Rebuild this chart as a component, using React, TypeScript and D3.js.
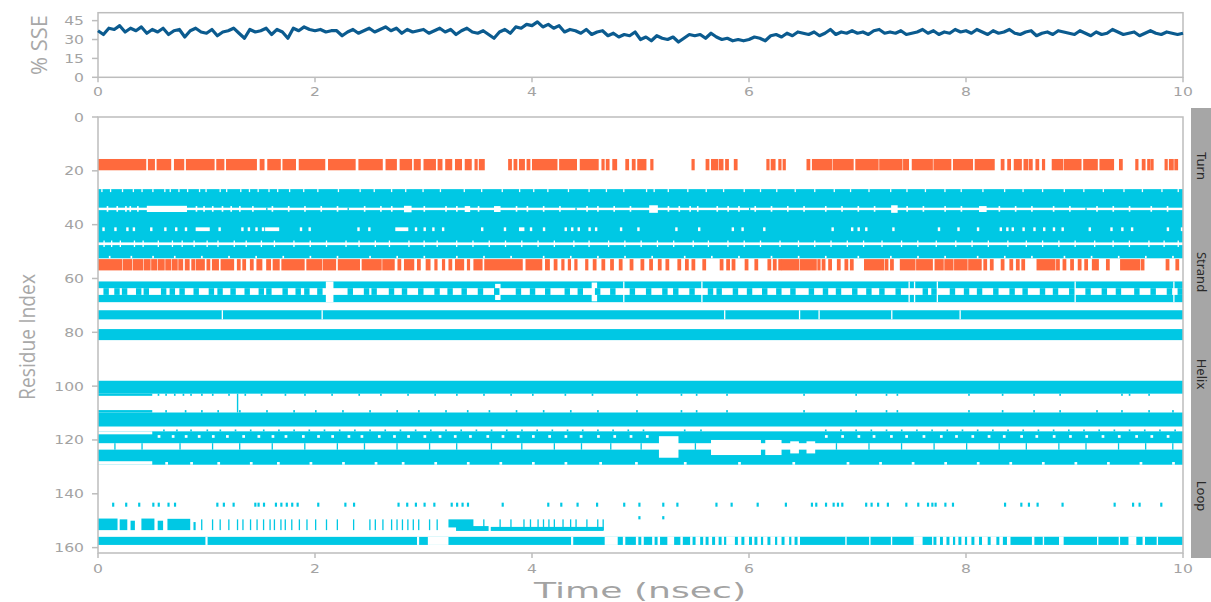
import React from 'react';
import * as d3 from 'd3';

// ---- SSE percentage, one reading every 0.05 ns (0..10 ns)
const SSE_STEP = 0.05;
const SSE_VALUES = [
  37,34,39,38,41,36,39,37,40,35,38,36,39,34,37,38,32,37,39,36,
  35,38,33,36,37,39,35,31,38,36,37,39,34,38,36,31,39,37,40,38,
  37,38,36,37,37,33,36,38,35,37,39,36,38,40,37,39,35,38,36,37,
  38,35,37,39,36,38,34,37,39,36,35,37,34,31,36,38,35,40,39,42,
  41,44,40,42,39,41,36,38,37,35,38,34,36,37,33,35,32,34,33,36,
  30,32,29,33,31,30,32,28,31,34,33,34,31,35,32,30,31,29,30,29,
  30,32,31,29,33,34,32,35,33,36,35,34,36,33,35,38,34,36,35,37,
  35,36,34,37,38,35,36,35,37,34,35,36,38,35,37,34,36,35,38,36,
  37,35,38,36,34,37,35,36,38,35,34,36,37,33,35,36,34,37,36,35,
  34,37,35,33,36,34,35,38,36,34,35,36,33,35,37,35,34,36,35,34,
  35,
];

const TIME_TICKS = [0, 2, 4, 6, 8, 10];
const SSE_TICKS = [0, 15, 30, 45];
const RES_TICKS = [0, 20, 40, 60, 80, 100, 120, 140, 160];
const LEGEND = [
  { label: 'Turn', y: 166 },
  { label: 'Strand', y: 272 },
  { label: 'Helix', y: 374 },
  { label: 'Loop', y: 496 },
];

// ---- helix (cyan) residue bands, [from, to]
const HELIX_BANDS: [number, number][] = [
  [26.8, 52.5], [61.1, 63.6], [66.1, 68.8], [71.8, 75.2], [78.8, 82.9],
  [98.0, 102.8], [109.8, 115.0], [116.8, 121.2], [123.6, 129.2], [156.0, 159.0],
];
// full-width white lines inside the helix band
const WHITE_LINES: [number, number][] = [[33.7, 34.6], [46.6, 47.6]];

// white blocks [t0, t1, r0, r1]
const WHITE_BLOCKS: [number, number, number, number][] = [
  [0.45, 0.82, 33.0, 35.3], [2.82, 2.89, 33.0, 35.4], [3.38, 3.43, 33.1, 35.3],
  [3.65, 3.71, 33.1, 35.3], [5.08, 5.16, 32.8, 35.6], [7.31, 7.37, 32.8, 35.6],
  [8.12, 8.19, 33.1, 35.3],
  [0.90, 1.03, 41.0, 42.4], [1.54, 1.67, 41.0, 42.4], [2.74, 2.86, 41.0, 42.4], [3.88, 3.93, 41.0, 42.4],
  [2.10, 2.17, 61.1, 68.8], [3.66, 3.71, 62.0, 68.0], [4.55, 4.60, 61.5, 68.5],
  [0.0, 0.5, 116.8, 117.9], [0.0, 0.5, 127.9, 129.2],
  [5.17, 5.35, 118.6, 126.6], [5.65, 6.11, 120.0, 125.6], [6.15, 6.30, 120.0, 125.6],
  [6.38, 6.46, 120.5, 125.0], [6.53, 6.61, 120.5, 125.0],
  [0.99, 1.01, 156.0, 159.0], [2.94, 2.96, 156.0, 159.0], [3.04, 3.23, 156.0, 159.0],
  [4.36, 4.38, 156.0, 159.0], [4.67, 10.0, 156.0, 159.0],
];

// thin white notches: rows and the times they appear at
const NOTCH_TOP1 = [0.03,0.11,0.22,0.32,0.40,0.50,0.61,0.66,0.74,0.82,0.93,0.99,1.12,1.18,1.31,1.39,1.47,1.57,1.65,1.76,1.89,2.02,2.21,2.41,2.54,2.70,2.83,2.99,3.15,3.37,3.53,3.72,3.88,4.01,4.14,4.33,4.52,4.68,4.84,5.05,5.12,5.25,5.43,5.60,5.76,5.95,6.10,6.25,6.42,6.60,6.78,6.93,7.10,7.30,7.45,7.62,7.80,7.95,8.15,8.35,8.52,8.70,8.90,9.08,9.26,9.45,9.62,9.80,9.95];
const NOTCH_34 = [0.08,0.17,0.25,0.29,0.36,0.90,0.97,1.05,1.14,1.22,1.30,1.42,1.60,1.75,1.90,2.05,2.20,2.45,2.60,2.70,3.00,3.20,3.30,3.50,3.85,3.95,4.10,4.25,4.50,4.60,4.75,4.90,5.25,5.35,5.45,5.52,5.70,5.80,5.90,6.05,6.20,6.35,6.50,6.70,6.85,7.00,7.15,7.45,7.60,7.80,7.95,8.30,8.45,8.60,8.80,8.95,9.20,9.35,9.50,9.70,9.85];
const NOTCH_41 = [0.04,0.15,0.26,0.32,0.48,0.61,0.71,0.80,1.11,1.32,1.38,1.45,1.51,1.86,1.94,2.39,2.49,2.92,3.00,3.08,3.17,3.53,3.74,3.98,4.10,4.30,4.36,4.42,4.52,4.58,4.81,4.97,5.32,5.53,5.84,5.93,6.13,6.76,6.94,7.00,7.07,7.32,7.74,7.92,8.10,8.31,8.37,8.42,8.52,8.62,8.71,8.80,8.88,9.13,9.33,9.43,9.52,9.85,9.98];
const NOTCH_47 = [0.05,0.12,0.20,0.33,0.41,0.55,0.68,0.77,0.88,1.00,1.10,1.25,1.36,1.50,1.62,1.80,1.95,2.10,2.28,2.40,2.55,2.68,2.86,3.00,3.12,3.30,3.45,3.60,3.75,3.90,4.05,4.20,4.38,4.52,4.70,4.85,5.00,5.15,5.30,5.48,5.62,5.80,5.95,6.10,6.28,6.45,6.60,6.75,6.90,7.05,7.22,7.40,7.55,7.72,7.90,8.05,8.20,8.38,8.55,8.70,8.85,9.00,9.18,9.35,9.50,9.68,9.82,9.95];
const NOTCH_BOT1 = [0.10,0.30,0.50,0.70,0.95,1.20,1.45,1.70,1.95,2.20,2.50,2.75,3.00,3.30,3.55,3.80,4.10,4.35,4.60,4.85,5.10,5.40,5.65,5.90,6.20,6.45,6.70,7.00,7.30,7.55,7.80,8.10,8.35,8.60,8.90,9.15,9.40,9.65,9.90];
const CUTS_62 = [4.84,5.56,7.47,7.52,7.73,9.00,9.91];
const CUTS_72 = [1.14,2.06,5.77,6.46,6.64,7.31,7.94];
const NOTCH_118 = [0.55,0.68,0.80,0.92,1.05,1.18,1.33,1.47,1.60,1.72,1.88,2.02,2.15,2.30,2.42,2.58,2.72,2.85,3.00,3.14,3.28,3.42,3.58,3.72,3.86,4.00,4.15,4.30,4.44,4.60,4.75,4.90,5.05,6.70,6.85,7.00,7.14,7.30,7.44,7.60,7.76,7.90,8.05,8.20,8.34,8.50,8.64,8.80,8.95,9.10,9.25,9.40,9.56,9.70,9.85];
const NOTCH_128 = [0.62,0.85,1.10,1.40,1.65,1.95,2.25,2.55,2.80,3.10,3.40,3.70,4.00,4.30,4.62,4.95,5.40,5.90,6.40,6.90,7.20,7.50,7.80,8.10,8.40,8.70,9.00,9.30,9.60,9.90];

// cyan ticks: bridges across white gaps and fringe spikes
const BRIDGE_34 = [1.55,2.30,4.40,6.00,9.10];
const BRIDGE_64 = [0.05,0.15,0.22,0.35,0.42,0.58,0.66,0.75,0.88,1.02,1.10,1.22,1.35,1.48,1.55,1.70,1.82,1.90,2.02,2.30,2.45,2.52,2.68,2.80,2.95,3.10,3.22,3.35,3.50,3.65,3.85,3.98,4.12,4.30,4.42,4.58,4.72,4.90,5.05,5.20,5.30,5.45,5.62,5.70,5.85,5.98,6.12,6.25,6.38,6.55,6.68,6.80,6.95,7.08,7.20,7.35,7.60,7.68,7.85,7.98,8.10,8.25,8.40,8.52,8.68,8.80,8.95,9.10,9.25,9.38,9.55,9.70,9.85,9.95];
const FRINGE_103 = [0.55,0.62,0.70,0.78,0.85,0.95,1.05,1.20,1.35,1.50,1.72,1.90,2.15,2.40,2.60,2.85,3.10,3.30,3.55,3.80,4.00,4.30,4.55,4.96,5.37,5.51,5.79,6.50,6.98,7.26,7.36,8.02,8.33,8.62,8.86,9.43,9.50,9.68];
const FRINGE_109 = [0.62,0.80,0.95,1.10,1.30,1.55,1.80,2.00,2.25,2.50,2.75,2.95,3.20,3.40,3.60,3.85,4.10,4.35,4.60,4.96,5.37,5.51,5.79,6.50,6.98,7.26,7.36,8.02,8.33,8.62,8.86,9.20,9.43,9.68,9.90];
const FRINGE_116 = [0.60,0.72,0.85,1.00,1.12,1.26,1.40,1.52,1.66,1.80,1.94,2.08,2.22,2.36,2.50,2.64,2.78,2.92,3.06,3.20,3.34,3.48,3.62,3.76,3.90,4.04,4.18,4.32,4.46,4.60,4.74,4.88,5.02,5.40,5.55,6.70,6.84,6.98,7.12,7.26,7.40,7.54,7.68,7.82,7.96,8.10,8.24,8.38,8.52,8.66,8.80,8.94,9.08,9.22,9.36,9.50,9.64,9.78,9.92];
const BRIDGE_122 = [0.15,0.40,0.75,1.05,1.30,1.60,1.90,2.20,2.45,2.75,3.05,3.30,3.62,3.90,4.20,4.45,4.72,5.00,5.50,6.80,7.10,7.40,7.70,8.00,8.30,8.55,8.85,9.10,9.40,9.65,9.90];

// sparse residues near 144 and 149
const DOTS_144 = [0.13,0.25,0.37,0.50,0.55,0.64,0.70,1.09,1.15,1.24,1.44,1.47,1.52,1.63,1.68,1.73,1.78,1.83,2.02,2.27,2.35,2.76,2.84,2.92,3.00,3.09,3.25,3.30,3.35,3.40,3.72,4.14,4.26,4.41,4.59,4.84,4.98,5.20,5.33,5.69,5.83,6.07,6.33,6.57,6.61,6.70,6.77,6.81,6.85,7.07,7.12,7.18,7.27,7.44,7.55,7.64,7.68,7.71,7.80,7.87,8.35,8.50,8.57,8.65,8.88,9.36,9.53,9.59,9.79];
const DOTS_149 = [4.98,5.20];
// loop-region helix fragments near 149-154: [t0, t1, r0, r1]
const FRAG_150: [number, number, number, number][] = [
  [0.00, 0.18, 149.2, 153.5], [0.20, 0.27, 149.5, 153.5], [0.30, 0.34, 150.0, 153.5],
  [0.40, 0.52, 149.2, 153.5], [0.55, 0.60, 150.0, 153.5], [0.64, 0.85, 149.3, 153.5],
  [0.88, 0.90, 150.5, 153.5], [3.23, 3.46, 149.5, 152.5], [3.30, 3.60, 152.0, 153.8],
  [3.62, 4.66, 152.3, 153.8],
];
const SPIKES_150 = [0.95,1.05,1.12,1.20,1.28,1.33,1.40,1.46,1.52,1.58,1.62,1.68,1.72,1.78,1.85,1.92,2.00,2.10,2.20,2.35,2.50,2.55,2.62,2.70,2.75,2.80,2.85,2.90,2.95,3.05,3.12,3.55,3.70,3.80,3.92,3.98,4.05,4.10,4.15,4.20,4.28,4.35,4.40,4.50,4.60,4.65];
// helix segments of residues 156-159 after 4.67 ns
const SEG_157: [number, number][] = [
  [4.79,4.83],[4.86,4.95],[4.98,5.00],[5.03,5.10],[5.13,5.15],[5.18,5.24],[5.31,5.36],[5.39,5.45],[5.48,5.50],
  [5.55,5.57],[5.60,5.62],[5.66,5.68],[5.72,5.74],[5.77,5.78],[5.87,5.89],[5.93,5.95],[6.00,6.02],[6.05,6.07],
  [6.11,6.12],[6.17,6.19],[6.24,6.25],[6.30,6.32],[6.37,6.38],[6.42,6.44],[6.47,6.88],[6.90,7.10],[7.12,7.30],
  [7.32,7.51],[7.60,7.68],[7.70,7.72],[7.76,7.78],[7.82,7.84],[7.88,7.89],[7.93,7.95],[7.99,8.00],[8.05,8.07],
  [8.12,8.14],[8.20,8.22],[8.28,8.30],[8.34,8.37],[8.41,8.60],[8.63,8.70],[8.72,8.85],[8.90,9.20],[9.22,9.40],
  [9.42,9.49],[9.57,9.62],[9.65,9.75],[9.77,9.99],
];

// strand (orange) occupancy, [t0, t1]
const STRAND_A_RES: [number, number] = [15.6, 19.8];
const STRAND_A: [number, number][] = [
  [0.00,0.43],[0.46,0.51],[0.54,0.66],[0.70,0.78],[0.81,1.06],[1.09,1.15],[1.18,1.45],[1.49,1.52],[1.56,1.67],
  [1.70,1.81],[1.85,2.08],[2.12,2.36],[2.40,2.61],[2.65,2.74],[2.78,2.88],[2.91,2.96],[3.00,3.10],[3.13,3.16],
  [3.20,3.25],[3.29,3.34],[3.38,3.43],[3.47,3.48],[3.51,3.55],[3.78,3.80],[3.83,3.85],[3.88,3.92],[3.95,3.97],
  [4.00,4.22],[4.25,4.40],[4.44,4.60],[4.64,4.65],[4.68,4.70],[4.74,4.77],[4.86,4.88],[4.92,4.94],[4.97,5.04],
  [5.09,5.10],[5.47,5.48],[5.60,5.62],[5.65,5.70],[5.72,5.75],[5.78,5.80],[5.86,5.88],[6.16,6.17],[6.20,6.23],
  [6.27,6.28],[6.31,6.32],[6.53,6.55],[6.58,6.75],[6.77,6.95],[6.98,7.18],[7.20,7.40],[7.42,7.46],[7.50,7.68],
  [7.70,7.85],[7.88,8.05],[8.08,8.25],[8.32,8.34],[8.38,8.40],[8.44,8.50],[8.53,8.56],[8.58,8.60],[8.64,8.66],
  [8.70,8.71],[8.79,8.88],[8.90,9.05],[9.08,9.20],[9.23,9.35],[9.41,9.43],[9.56,9.57],[9.62,9.64],[9.67,9.68],
  [9.70,9.71],[9.83,9.84],[9.87,9.90],[9.92,9.94],
];
const STRAND_B_RES: [number, number] = [52.8, 57.0];
const STRAND_B: [number, number][] = [
  [0.00,0.21],[0.23,0.30],[0.32,0.40],[0.42,0.47],[0.49,0.53],[0.55,0.60],[0.62,0.66],[0.68,0.72],[0.74,0.77],
  [0.80,0.83],[0.86,0.88],[0.90,0.97],[1.00,1.02],[1.05,1.10],[1.13,1.24],[1.28,1.30],[1.33,1.35],[1.40,1.42],
  [1.46,1.50],[1.55,1.58],[1.61,1.66],[1.69,1.89],[1.92,2.05],[2.07,2.18],[2.21,2.40],[2.43,2.60],[2.62,2.72],
  [2.76,2.78],[2.82,2.90],[2.94,2.96],[3.02,3.05],[3.10,3.11],[3.17,3.18],[3.23,3.25],[3.29,3.36],[3.40,3.41],
  [3.46,3.53],[3.56,3.90],[3.94,4.08],[4.12,4.15],[4.20,4.22],[4.27,4.28],[4.33,4.34],[4.39,4.40],[4.49,4.50],
  [4.56,4.58],[4.64,4.66],[4.72,4.74],[4.80,4.82],[4.90,4.92],
  [5.00,5.02],[5.08,5.10],[5.16,5.18],[5.23,5.25],[5.34,5.36],[5.41,5.43],[5.47,5.49],[5.57,5.59],[5.73,5.75],
  [5.79,5.81],[5.84,5.86],[5.96,5.98],[6.05,6.07],[6.17,6.19],[6.22,6.24],[6.27,6.29],[6.30,6.45],[6.47,6.61],
  [6.63,6.64],[6.67,6.69],[6.73,6.75],[6.81,6.83],[6.88,6.90],[6.93,6.95],[7.06,7.23],[7.25,7.27],[7.30,7.32],
  [7.39,7.52],[7.54,7.68],[7.71,7.78],[7.80,7.87],[7.89,8.00],[8.02,8.13],[8.16,8.18],[8.22,8.24],[8.32,8.34],
  [8.40,8.42],[8.46,8.48],[8.51,8.53],[8.65,8.81],[8.83,8.85],[8.89,8.91],[8.96,8.98],[9.03,9.05],[9.09,9.11],
  [9.16,9.21],[9.29,9.31],[9.42,9.59],[9.61,9.63],[9.84,9.86],[9.93,9.95],
];

const CYAN = '#00c8e4';
const ORANGE = '#ff6a3d';
const LINE = '#0b5b8f';
const AXIS = '#bdbdbd';
const TICK_TEXT = '#a3a3a3';

export default function App() {
  const x = d3.scaleLinear().domain([0, 10]).range([98, 1183]);
  const yS = d3.scaleLinear().domain([0, 51.3]).range([77.3, 12.7]);
  const yR = d3.scaleLinear().domain([0, 162]).range([117, 553]);

  const line = d3.line<number>()
    .x((_, i) => x(i * SSE_STEP))
    .y(d => yS(d));

  const rect = (t0: number, t1: number, r0: number, r1: number, fill: string, key: string, minW = 1.4, pad = 0) => (
    <rect key={key} x={x(t0)} y={yR(r0)} width={Math.min(Math.max(x(t1) - x(t0), minW) + pad, 1183 - x(t0))}
      height={yR(r1) - yR(r0)} fill={fill} />
  );
  const ticks = (times: number[], r0: number, r1: number, fill: string, w: number, key: string) =>
    times.map((t, i) => rect(t, t + w, r0, r1, fill, `${key}-${i}`, 1.2));

  const tickLabel = (tx: number, ty: number, s: string, anchor: string, key: string) => (
    <text key={key} transform={`translate(${tx},${ty}) scale(1.3,1)`} textAnchor={anchor}
      fontFamily="DejaVu Sans" fontSize={12} fill={TICK_TEXT}>{s}</text>
  );

  return (
    <svg width={1211} height={602} style={{ position: 'absolute', left: 0, top: 0, background: '#fff' }}>
      {/* ---- top panel: % SSE */}
      <rect x={98} y={yS(51.3)} width={1085} height={yS(0) - yS(51.3)} fill="none" stroke={AXIS} strokeWidth={1.5} />
      <path d={line(SSE_VALUES) ?? ''} fill="none" stroke={LINE} strokeWidth={3.2} strokeLinejoin="round" />
      {SSE_TICKS.map(v => (
        <g key={`ys${v}`}>
          <line x1={92} x2={98} y1={yS(v)} y2={yS(v)} stroke={AXIS} strokeWidth={1.5} />
          {tickLabel(84, yS(v) + 4.5, String(v), 'end', `yst${v}`)}
        </g>
      ))}
      {TIME_TICKS.map(t => (
        <g key={`xs${t}`}>
          <line x1={x(t)} x2={x(t)} y1={yS(0)} y2={yS(0) + 5} stroke={AXIS} strokeWidth={1.5} />
          {tickLabel(x(t), 96, String(t), 'middle', `xst${t}`)}
        </g>
      ))}
      <text transform="translate(47,45) rotate(-90)" textAnchor="middle" fontFamily="Open Sans" fontSize={21}
        fill="#a8a8a8" textLength={60} lengthAdjust="spacingAndGlyphs">% SSE</text>

      {/* ---- bottom panel: residue SSE map */}
      <g>
        {HELIX_BANDS.map(([r0, r1], i) => rect(0, 10, r0, r1, CYAN, `hb${i}`))}
        {WHITE_LINES.map(([r0, r1], i) => rect(0, 10, r0, r1, '#fff', `wl${i}`))}
        {WHITE_BLOCKS.map(([t0, t1, r0, r1], i) => rect(t0, t1, r0, r1, '#fff', `wb${i}`))}
        {ticks(NOTCH_TOP1, 26.8, 27.9, '#fff', 0.012, 'nt1')}
        {ticks(NOTCH_34, 33.1, 35.2, '#fff', 0.015, 'n34')}
        {ticks(NOTCH_41, 41.0, 42.4, '#fff', 0.022, 'n41')}
        {ticks(NOTCH_47, 45.9, 48.3, '#fff', 0.012, 'n47')}
        {ticks(NOTCH_BOT1, 51.6, 52.5, '#fff', 0.015, 'nb1')}
        {ticks(CUTS_62, 61.1, 68.8, '#fff', 0.012, 'c62')}
        {ticks(CUTS_72, 71.8, 75.2, '#fff', 0.012, 'c72')}
        {ticks(NOTCH_118, 118.2, 119.2, '#fff', 0.025, 'n118')}
        {ticks(NOTCH_128, 128.2, 129.2, '#fff', 0.025, 'n128')}

        {ticks(BRIDGE_34, 33.7, 34.6, CYAN, 0.012, 'b34')}
        {ticks(BRIDGE_64, 63.6, 66.1, CYAN, 0.05, 'b64')}
        {rect(0, 0.5, 102.8, 103.6, CYAN, 'f103a')}
        {ticks(FRINGE_103, 102.8, 103.6, CYAN, 0.015, 'f103')}
        {rect(1.28, 1.29, 102.8, 109.8, CYAN, 'f105')}
        {rect(0, 0.5, 108.9, 109.8, CYAN, 'f109a')}
        {ticks(FRINGE_109, 108.9, 109.8, CYAN, 0.015, 'f109')}
        {ticks(FRINGE_116, 116.1, 116.8, CYAN, 0.015, 'f116')}
        {ticks(BRIDGE_122, 121.2, 123.6, CYAN, 0.012, 'b122')}

        {ticks(DOTS_144, 143.3, 144.8, CYAN, 0.02, 'd144')}
        {ticks(DOTS_149, 148.3, 149.5, CYAN, 0.02, 'd149')}
        {FRAG_150.map(([t0, t1, r0, r1], i) => rect(t0, t1, r0, r1, CYAN, `fr${i}`))}
        {ticks(SPIKES_150, 149.5, 153.5, CYAN, 0.012, 's150')}
        {SEG_157.map(([t0, t1], i) => rect(t0, t1, 156.0, 159.0, CYAN, `sg${i}`, 1.4, 0.8))}

        {STRAND_A.map(([t0, t1], i) => rect(t0, t1, STRAND_A_RES[0], STRAND_A_RES[1], ORANGE, `sa${i}`, 1.6, 1.6))}
        {STRAND_B.map(([t0, t1], i) => rect(t0, t1, STRAND_B_RES[0], STRAND_B_RES[1], ORANGE, `sb${i}`, 1.6, 1.6))}
      </g>
      <rect x={98} y={yR(0)} width={1085} height={yR(162) - yR(0)} fill="none" stroke={AXIS} strokeWidth={1.5} />
      {RES_TICKS.map(r => (
        <g key={`yr${r}`}>
          <line x1={92} x2={98} y1={yR(r)} y2={yR(r)} stroke={AXIS} strokeWidth={1.5} />
          {tickLabel(84, yR(r) + 4.5, String(r), 'end', `yrt${r}`)}
        </g>
      ))}
      {TIME_TICKS.map(t => (
        <g key={`xr${t}`}>
          <line x1={x(t)} x2={x(t)} y1={yR(162)} y2={yR(162) + 5} stroke={AXIS} strokeWidth={1.5} />
          {tickLabel(x(t), 573, String(t), 'middle', `xrt${t}`)}
        </g>
      ))}
      <text transform="translate(35,337) rotate(-90)" textAnchor="middle" fontFamily="Open Sans" fontSize={22}
        fill="#a8a8a8" textLength={126} lengthAdjust="spacingAndGlyphs">Residue Index</text>
      <text x={640} y={598} textAnchor="middle" fontFamily="DejaVu Sans" fontSize={21} fill="#a3a3a3"
        textLength={212} lengthAdjust="spacingAndGlyphs">Time (nsec)</text>

      {/* ---- SSE legend strip */}
      <rect x={1191} y={108} width={24} height={450} fill="#a6a6a6" />
      {LEGEND.map(d => (
        <text key={d.label} transform={`translate(1197,${d.y}) rotate(90)`} textAnchor="middle"
          fontFamily="Noto Sans" fontSize={13} fill="#2a2a2a">{d.label}</text>
      ))}
    </svg>
  );
}
